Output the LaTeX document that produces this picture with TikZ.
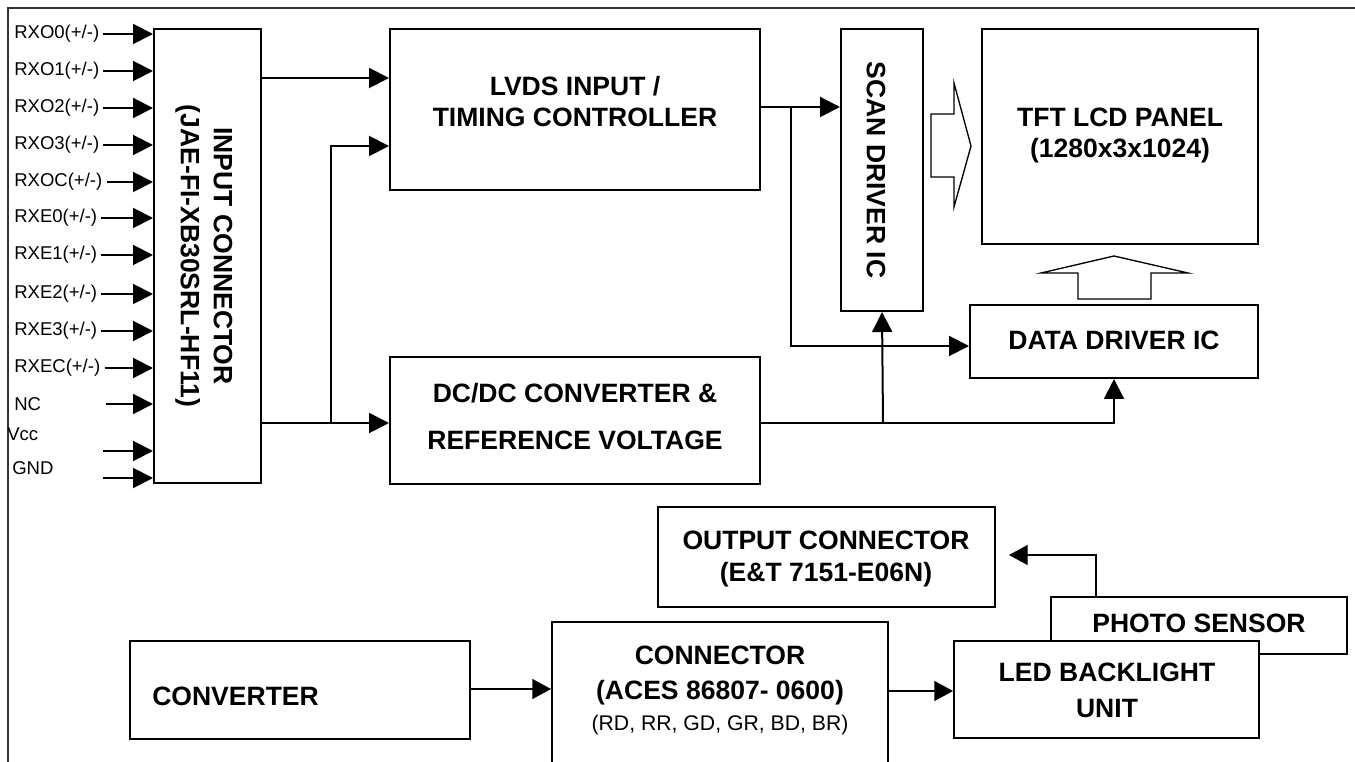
\documentclass[tikz,border=0pt]{standalone}
\usepackage{fontspec}
\setmainfont{Liberation Sans}
\usetikzlibrary{arrows.meta,fit}
\begin{document}
\begin{tikzpicture}[x=0.75pt,y=-0.75pt,
  box/.style={draw,line width=1.5pt,inner sep=0pt},
  wbox/.style={box,fill=white},
  bt/.style={font=\fontsize{19.9pt}{#1}\selectfont\bfseries,align=center,inner sep=0pt},
  bt/.default=23.25pt,
  lab/.style={font=\fontsize{13.9pt}{16pt}\selectfont,anchor=west,inner sep=3pt},
  small/.style={font=\fontsize{15.9pt}{18pt}\selectfont,inner sep=0pt},
  arr/.style={line width=1.5pt,-{Triangle[length=15pt,width=15pt]}},
  arrt/.style={line width=1pt,-{Triangle[length=14pt,width=15pt]}},
  hollow/.style={draw,line width=1pt,line join=miter},
  frame/.style={line width=0.9pt,draw=black!80}]
\clip (0,0) rectangle (1355,762);
% frame
\draw[frame] (8,770) -- (8,8) -- (1360,8);

% boxes
\node[box,fit={(154,29) (261,483)}] (inconn) {};
\node[box,fit={(390,29) (760,190)}] (lvds) {};
\node[box,fit={(390,357) (760,484)}] (dcdc) {};
\node[box,fit={(841,29) (923,311)}] (scan) {};
\node[box,fit={(982,29) (1258,244)}] (tft) {};
\node[box,fit={(970,305) (1258,378)}] (data) {};
\node[box,fit={(658,507) (995,607)}] (outc) {};
\node[box,fit={(1051,597) (1347,654)}] (photo) {};
\node[wbox,fit={(954,641) (1259,738)}] (led) {};
\node[box,fit={(552,622) (888,790)}] (conn) {};
\node[box,fit={(130,641) (470,739)}] (conv) {};

% texts
\node[bt=24.75pt,rotate=-90] (inconnt) at (204,256) {INPUT CONNECTOR\\(JAE-FI-XB30SRL-HF11)};
\node[bt] (lvdst) at (575,101.5) {LVDS INPUT /\\TIMING CONTROLLER};
\node[bt=35.25pt] (dcdct) at (575,416.5) {DC/DC CONVERTER \&\\REFERENCE VOLTAGE};
\node[bt,rotate=-90] (scant) at (876,170) {SCAN DRIVER IC};
\node[bt] (tftt) at (1120,135) {TFT LCD PANEL\\(1280x3x1024)};
\node[bt] (datat) at (1114,340) {DATA DRIVER IC};
\node[bt=24pt] (outct) at (826,559) {OUTPUT CONNECTOR\\(E\&T 7151-E06N)};
\node[bt] (photot) at (1199,623) {PHOTO SENSOR};
\node[bt=27pt] (ledt) at (1107,690) {LED BACKLIGHT\\UNIT};
\node[bt=26.25pt] (connt) at (720,675) {CONNECTOR\\(ACES 86807- 0600)};
\node[small] (conns) at (720,725) {(RD, RR, GD, GR, BD, BR)};
\node[bt,anchor=west] (convt) at (152,696) {CONVERTER};

% input labels
\foreach \n/\t/\y in {o0/RXO0/34, o1/RXO1/71, o2/RXO2/108, o3/RXO3/145, oc/RXOC/182, e0/RXE0/218, e1/RXE1/255, e2/RXE2/294, e3/RXE3/331, ec/RXEC/368} {
  \node[lab] (l\n) at (10,\y) {\t(+/-)};
  \draw[arr] (l\n.east) -- (inconn.west |- l\n.east);
}
\node[lab] (lnc) at (10,404) {NC};
\node[lab] (lvcc) at (3,434) {Vcc};
\node[lab] (lgnd) at (8,468) {GND};
\coordinate (snc) at (106,404);
\coordinate (svcc) at (103,451);
\coordinate (sgnd) at (103,478);
\draw[arr] (snc) -- (inconn.west |- snc);
\draw[arr] (svcc) -- (inconn.west |- svcc);
\draw[arr] (sgnd) -- (inconn.west |- sgnd);

% main connectors
\coordinate (j1) at (331,423);
\coordinate (j2) at (791,107);
\coordinate (j3) at (883,423);
\draw[arr] (inconn.east |- 0,78) -- (lvds.west |- 0,78);
\draw[arr] (inconn.east |- j1) -- (dcdc.west |- j1);
\draw[arr] (j1) -- (331,146) -- (lvds.west |- 0,146);
\draw[arr] (lvds.east |- j2) -- (scan.west |- j2);
\draw[arr] (j2) -- (791,346) -- (data.west |- 0,346);
\draw[arr] (dcdc.east |- j1) -- (data.south |- j1) -- (data.south);
\draw[arr] (j3) -- (scan.south);

% hollow block arrows
\draw[hollow] (931,114) -- (954,114) -- (954,83) -- (971,146) -- (954,207) -- (954,177) -- (931,177) -- cycle;
\draw[hollow] (1078,299) -- (1078,273) -- (1041,273) -- (1114,256) -- (1188,273) -- (1151,273) -- (1151,299) -- cycle;

% bottom connectors
\coordinate (otip) at (1009,555);
\draw[arrt] (conv.east |- 0,689) -- (conn.west |- 0,689);
\draw[arrt] (conn.east |- 0,691) -- (led.west |- 0,691);
\draw[arrt] (photo.north -| 1096,0) -- (1096,555) -- (otip);
\end{tikzpicture}
\end{document}
